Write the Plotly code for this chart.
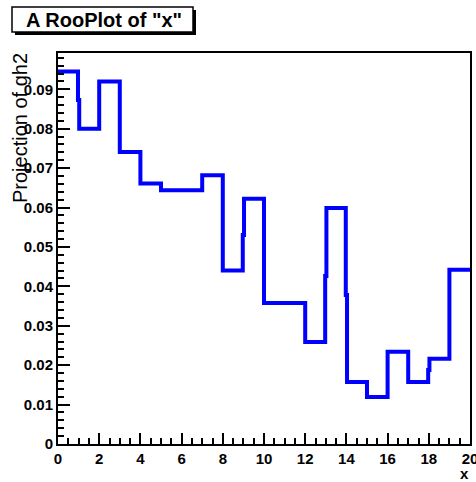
import plotly.graph_objects as go

# ---- data ----
bin_lo = list(range(0, 20))
bin_hi = list(range(1, 21))
bin_values = [0.0945, 0.0800, 0.0920, 0.0741, 0.0661, 0.0644, 0.0644, 0.0682,
              0.0440, 0.0622, 0.0358, 0.0358, 0.0259, 0.0599, 0.0157, 0.0119,
              0.0234, 0.0157, 0.0216, 0.0442]
# intermediate curve samples at some bin boundaries (boundary -> value)
jog_edges = [1, 9, 13, 14, 18]
jog_values = [0.0873, 0.0530, 0.0426, 0.0378, 0.0188]

x_ticks = [0, 2, 4, 6, 8, 10, 12, 14, 16, 18, 20]
y_ticks = [0, 0.01, 0.02, 0.03, 0.04, 0.05, 0.06, 0.07, 0.08, 0.09]
y_tick_labels = ["0", "0.01", "0.02", "0.03", "0.04", "0.05", "0.06", "0.07", "0.08", "0.09"]

title_text = 'A RooPlot of "x"'
y_title = "Projection of gh2"
x_title = "x"

# ---- build curve points ----
jogs = dict(zip(jog_edges, jog_values))
d = 0.03
cx, cy = [], []
for lo, hi, v in zip(bin_lo, bin_hi, bin_values):
    if lo in jogs:
        cx += [lo + d, lo + d]
        cy += [jogs[lo], v]
    else:
        cx.append(lo)
        cy.append(v)
    if hi in jogs:
        cx += [hi - d, hi - d]
        cy += [v, jogs[hi]]
    else:
        cx.append(hi)
        cy.append(v)

W, H = 476, 482
L, R, T, B = 58, 6, 53, 38
pw, ph = W - L - R, H - T - B


def px(xp):
    return (xp - L) / pw


def py(yp):
    return (H - B - yp) / ph


FONT = "Liberation Sans, Arial, Helvetica, sans-serif"

fig = go.Figure()
fig.add_trace(go.Scatter(x=cx, y=cy, mode="lines",
                         line=dict(color="#0000FF", width=4),
                         showlegend=False, hoverinfo="skip"))

fig.update_layout(
    width=W, height=H,
    margin=dict(l=L, r=R, t=T, b=B),
    paper_bgcolor="white", plot_bgcolor="white",
    showlegend=False,
)
fig.update_xaxes(
    range=[0, 20], tickvals=x_ticks, ticktext=[str(v) for v in x_ticks],
    ticks="inside", ticklen=11, tickwidth=1.5, tickcolor="black",
    minor=dict(dtick=0.5, tick0=0, ticks="inside", ticklen=6, tickwidth=1.5, tickcolor="black"),
    showline=True, linecolor="black", linewidth=2, mirror=True,
    showgrid=False, zeroline=False, ticklabeloverflow="allow", automargin=False,
    tickfont=dict(family=FONT, size=15, color="black", weight="bold"),
)
fig.update_yaxes(
    range=[0, 0.0992], tickvals=y_ticks, ticktext=y_tick_labels,
    ticks="inside", ticklen=12, tickwidth=1.5, tickcolor="black",
    minor=dict(dtick=0.002, tick0=0, ticks="inside", ticklen=6, tickwidth=1.5, tickcolor="black"),
    showline=True, linecolor="black", linewidth=2, mirror=True,
    showgrid=False, zeroline=False, automargin=False,
    tickfont=dict(family=FONT, size=15, color="black", weight="bold"),
)

# title box with shadow
fig.add_shape(type="rect", xref="paper", yref="paper",
              x0=px(15), x1=px(196), y0=py(35), y1=py(10),
              fillcolor="black", line=dict(width=0), layer="above")
fig.add_shape(type="rect", xref="paper", yref="paper",
              x0=px(12), x1=px(193), y0=py(32), y1=py(7),
              fillcolor="white", line=dict(color="black", width=1.5), layer="above")
fig.add_annotation(text=title_text, xref="paper", yref="paper",
                   x=px(103.5), y=py(20), xanchor="center", yanchor="middle",
                   showarrow=False,
                   font=dict(family=FONT, size=20, color="black", weight="bold"))

fig.add_annotation(text=y_title, xref="paper", yref="paper",
                   x=px(20), y=py(51), xanchor="center", yanchor="top",
                   textangle=-90, showarrow=False,
                   font=dict(family=FONT, size=20, color="black"))
fig.add_annotation(text=x_title, xref="paper", yref="paper",
                   x=px(464), y=py(473), xanchor="center", yanchor="middle",
                   showarrow=False,
                   font=dict(family=FONT, size=15, color="black", weight="bold"))

fig.write_html("out.html", config={"displayModeBar": False},
               post_script="document.body.style.margin='0px';document.body.style.padding='0px';")
